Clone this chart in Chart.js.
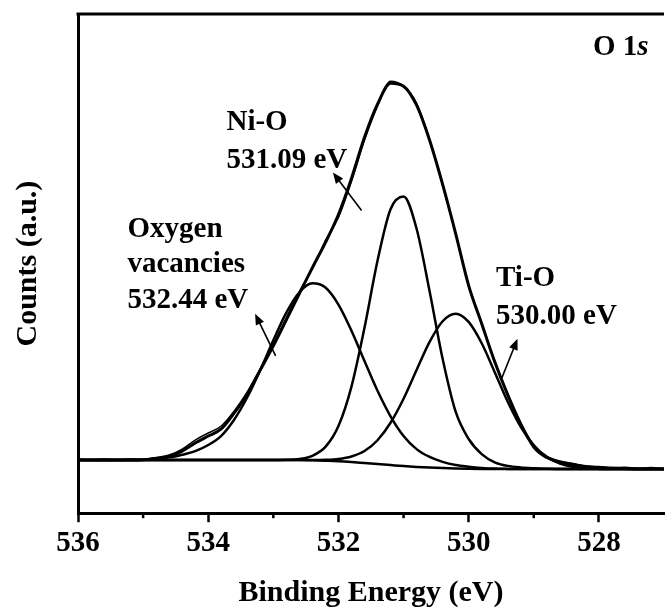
<!DOCTYPE html>
<html>
<head>
<meta charset="utf-8">
<script src="https://cdn.jsdelivr.net/npm/chart.js@4.4.0/dist/chart.umd.min.js"></script>
<style>
  html, body { margin: 0; padding: 0; background: #fff; overflow: hidden; }
  #wrap { width: 668px; height: 612px; }
</style>
</head>
<body>
<div id="wrap"><canvas id="xps" width="668" height="612"></canvas></div>
<script>
// Binding energy grid (eV), read every 0.2 eV off the picture
const energies = [536.0, 535.8, 535.6, 535.4, 535.2, 535.0, 534.8, 534.6, 534.4, 534.2,
    534.0, 533.8, 533.6, 533.4, 533.2, 533.0, 532.8, 532.6, 532.4, 532.2,
    532.0, 531.8, 531.6, 531.4, 531.2, 531.0, 530.8, 530.6, 530.4, 530.2,
    530.0, 529.8, 529.6, 529.4, 529.2, 529.0, 528.8, 528.6, 528.4, 528.2,
    528.0, 527.8, 527.6, 527.4, 527.2, 527.0];

// Counts (a.u.)
const rawCounts = [54, 53, 54, 53, 54, 53.5, 55.5, 58, 64, 73,
    80, 87, 102, 121, 144, 168, 195, 221, 244, 272,
    295, 331, 372, 406, 431, 426, 409, 373, 327, 279,
    228, 190, 152, 119, 90, 68, 57, 52, 49.5, 47,
    46.5, 45.5, 45.8, 44.8, 45.5, 44.6];

const fitEnvelope = [53, 53, 53, 53, 53, 53.3, 54.5, 56.5, 62, 70,
    77, 84, 100, 119, 143, 167, 193, 219, 245, 270,
    298, 334, 375, 408, 429, 426, 407, 372, 328, 279,
    227, 189, 151, 118, 89, 66, 55.5, 51, 48.5, 46.5,
    45.5, 44.8, 44.5, 44.2, 44.2, 44.2];

const oxygenVacancies = [53, 53, 53, 53, 53.1, 53.4, 54.8, 55.7, 58.3, 61.9,
    68.0, 77.2, 93.5, 115.7, 142.9, 172.5, 200.1, 220.4, 229.3, 225.1,
    208.1, 182, 151.8, 122.1, 96.7, 77.1, 63.9, 56.1, 51.2, 48.1,
    46.4, 45.2, 44.5, 44.2, 44, 44, 44, 44, 44, 44,
    44, 44, 44, 44, 44, 44];

const niO = [53, 53, 53, 53, 53, 53, 53, 53, 53, 53,
    53, 53, 53, 53, 53, 53, 53.3, 54.2, 57.3, 66.1,
    86.9, 126.3, 185, 251.8, 303.2, 315.9, 283.8, 221.5, 154.1, 101.3,
    74, 59, 50.8, 47.2, 45.6, 44.8, 44.3, 44, 44, 44,
    44, 44, 44, 44, 44, 44];

const tiO = [53, 53, 53, 53, 53, 53, 53, 53, 53, 53,
    53, 53, 53, 53, 53, 53, 53, 53, 53, 53.2,
    54.1, 56.6, 62, 72.8, 90.2, 114.2, 142.9, 170.9, 191.5, 199,
    190.8, 169.5, 140.7, 111.2, 86.2, 67.8, 56, 49.6, 46.3, 44.8,
    44.2, 44, 44, 44, 44, 44];

const background = [53, 53, 53, 53, 53, 53, 53, 53, 53, 53,
    53, 53, 53, 53, 53, 53, 53, 53, 52.7, 52.3,
    51.8, 51, 50, 49, 48, 47, 46.2, 45.5, 45, 44.6,
    44.3, 44.1, 44, 44, 44, 44, 44, 44, 44, 44,
    44, 44, 44, 44, 44, 44];

const xTickLabels = [536, 534, 532, 530, 528];
const minorTicks = [535, 533, 531, 529];

// Peak labels and arrows, placed in data units (eV, counts)
const peakLabels = [
    { e: 533.72, v: [382, 344], lines: ['Ni-O', '531.09 eV'] },
    { e: 535.24, v: [276, 241, 205], lines: ['Oxygen', 'vacancies', '532.44 eV'] },
    { e: 529.58, v: [227, 189], lines: ['Ti-O', '530.00 eV'] }
];
const arrows = [
    { from: [531.645, 302], to: [532.085, 340] },
    { from: [532.965, 157], to: [533.28, 199] },
    { from: [529.49, 135], to: [529.25, 174] }
];

const serif = '"Liberation Serif", "Times New Roman", serif';

function toPoints(arr) {
    return energies.map((e, i) => ({ x: e, y: arr[i] }));
}

function line(label, arr, width) {
    return {
        label: label,
        data: toPoints(arr),
        borderColor: '#000',
        borderWidth: width,
        pointRadius: 0,
        fill: false,
        cubicInterpolationMode: 'monotone'
    };
}

function drawArrow(ctx, x0, y0, x1, y1) {
    const ang = Math.atan2(y1 - y0, x1 - x0);
    const len = 11, half = 4.5;
    ctx.beginPath();
    ctx.moveTo(x0, y0);
    ctx.lineTo(x1 - Math.cos(ang) * len * 0.8, y1 - Math.sin(ang) * len * 0.8);
    ctx.stroke();
    ctx.beginPath();
    ctx.moveTo(x1, y1);
    ctx.lineTo(x1 - Math.cos(ang) * len + Math.sin(ang) * half, y1 - Math.sin(ang) * len - Math.cos(ang) * half);
    ctx.lineTo(x1 - Math.cos(ang) * len - Math.sin(ang) * half, y1 - Math.sin(ang) * len + Math.cos(ang) * half);
    ctx.closePath();
    ctx.fill();
}

const xpsDecor = {
    id: 'xpsDecor',
    afterDatasetsDraw(chart) {
        const { ctx, scales: { x, y } } = chart;
        ctx.save();
        ctx.fillStyle = '#000';
        ctx.strokeStyle = '#000';
        ctx.font = 'bold 29px ' + serif;
        ctx.textBaseline = 'alphabetic';
        ctx.textAlign = 'left';
        peakLabels.forEach(p => {
            p.lines.forEach((t, i) => {
                ctx.fillText(t, x.getPixelForValue(p.e), y.getPixelForValue(p.v[i]));
            });
        });
        ctx.lineWidth = 1.6;
        arrows.forEach(a => {
            drawArrow(ctx,
                x.getPixelForValue(a.from[0]), y.getPixelForValue(a.from[1]),
                x.getPixelForValue(a.to[0]), y.getPixelForValue(a.to[1]));
        });
        // "O 1s" with italic s
        const ox = x.getPixelForValue(528.09), oy = y.getPixelForValue(457);
        ctx.font = 'bold 29px ' + serif;
        ctx.fillText('O 1', ox, oy);
        const w = ctx.measureText('O 1').width;
        ctx.font = 'italic bold 29px ' + serif;
        ctx.fillText('s', ox + w, oy);
        ctx.restore();
    },
    afterDraw(chart) {
        const { ctx, chartArea, scales: { x } } = chart;
        ctx.save();
        ctx.strokeStyle = '#000';
        // top frame line
        ctx.lineWidth = 3;
        ctx.beginPath();
        ctx.moveTo(chartArea.left - 1.5, chartArea.top);
        ctx.lineTo(chartArea.right, chartArea.top);
        ctx.stroke();
        // short minor ticks
        ctx.lineWidth = 2.5;
        minorTicks.forEach(v => {
            const px = x.getPixelForValue(v);
            ctx.beginPath();
            ctx.moveTo(px, chartArea.bottom);
            ctx.lineTo(px, chartArea.bottom + 5);
            ctx.stroke();
        });
        ctx.restore();
    }
};

new Chart(document.getElementById('xps'), {
    type: 'line',
    data: {
        datasets: [
            line('Background', background, 2.5),
            line('Oxygen vacancies', oxygenVacancies, 2.5),
            line('Ni-O', niO, 2.5),
            line('Ti-O', tiO, 2.5),
            line('Fit', fitEnvelope, 3),
            line('Raw', rawCounts, 1.5)
        ]
    },
    options: {
        responsive: false,
        animation: false,
        devicePixelRatio: 1,
        layout: { padding: { top: 14, right: 0, left: 0, bottom: 0 } },
        plugins: {
            legend: { display: false },
            tooltip: { enabled: false }
        },
        scales: {
            x: {
                type: 'linear',
                reverse: true,
                min: 527,
                max: 536,
                ticks: {
                    stepSize: 1,
                    padding: 4,
                    color: '#000',
                    font: { family: serif, size: 29, weight: 'bold' },
                    callback: v => xTickLabels.includes(v) ? String(v) : ''
                },
                grid: {
                    display: true,
                    drawOnChartArea: false,
                    drawTicks: true,
                    tickLength: 9,
                    tickWidth: 2.5,
                    tickColor: c => (c.tick && xTickLabels.includes(c.tick.value)) ? '#000' : 'rgba(0,0,0,0)'
                },
                border: { display: true, color: '#000', width: 3 },
                title: {
                    display: true,
                    text: 'Binding Energy (eV)',
                    color: '#000',
                    font: { family: serif, size: 30, weight: 'bold' },
                    padding: { top: 10, bottom: 1 }
                }
            },
            y: {
                min: 0,
                max: 498,
                ticks: { display: false },
                grid: { display: false, drawTicks: false },
                border: { display: true, color: '#000', width: 3 },
                title: {
                    display: true,
                    text: 'Counts (a.u.)',
                    color: '#000',
                    font: { family: serif, size: 30, weight: 'bold' },
                    padding: { top: 10, bottom: 32 }
                }
            }
        }
    },
    plugins: [xpsDecor]
});
</script>
</body>
</html>
